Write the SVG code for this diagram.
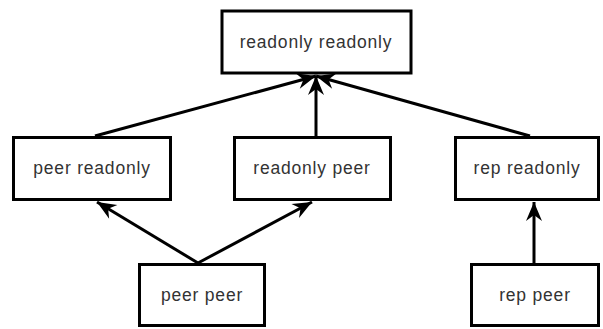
<svg xmlns="http://www.w3.org/2000/svg" width="603" height="329" viewBox="0 0 603 329">
<defs>
<marker id="arr" markerUnits="userSpaceOnUse" markerWidth="24" markerHeight="24" refX="0" refY="0" viewBox="-21 -12 24 24" orient="auto">
<path d="M0,0 L-19,-8 L-13,0 L-19,8 Z" fill="#000"/>
</marker>
<style>
.box{fill:#fff;stroke:#000;stroke-width:3}
.lbl{font-family:"Liberation Sans",Arial,sans-serif;font-size:17.5px;letter-spacing:0.8px;fill:#333;text-anchor:middle;dominant-baseline:central}
.edge{stroke:#000;stroke-width:3;fill:none;marker-end:url(#arr)}
</style>
</defs>
<g id="connectors">
<line class="edge" x1="95" y1="136" x2="316" y2="76"/>
<line class="edge" x1="316" y1="136" x2="316" y2="76"/>
<line class="edge" x1="530" y1="136" x2="316" y2="76"/>
<line class="edge" x1="198" y1="263" x2="97" y2="202"/>
<line class="edge" x1="198" y1="263" x2="312" y2="202"/>
<line class="edge" x1="534" y1="263" x2="534" y2="202"/>
</g>
<g id="readonly-readonly"><rect class="box" x="222" y="11" width="189" height="62"/><text class="lbl" x="316" y="42">readonly readonly</text></g>
<g id="peer-readonly"><rect class="box" x="13.5" y="137.5" width="157" height="62"/><text class="lbl" x="92" y="168">peer readonly</text></g>
<g id="readonly-peer"><rect class="box" x="234.5" y="137.5" width="156" height="62"/><text class="lbl" x="312" y="168">readonly peer</text></g>
<g id="rep-readonly"><rect class="box" x="455.5" y="137.5" width="143" height="62"/><text class="lbl" x="527" y="168">rep readonly</text></g>
<g id="peer-peer"><rect class="box" x="139.5" y="264.5" width="125" height="61"/><text class="lbl" x="202" y="295">peer peer</text></g>
<g id="rep-peer"><rect class="box" x="471.5" y="264.5" width="127" height="61"/><text class="lbl" x="535" y="295">rep peer</text></g>
</svg>
